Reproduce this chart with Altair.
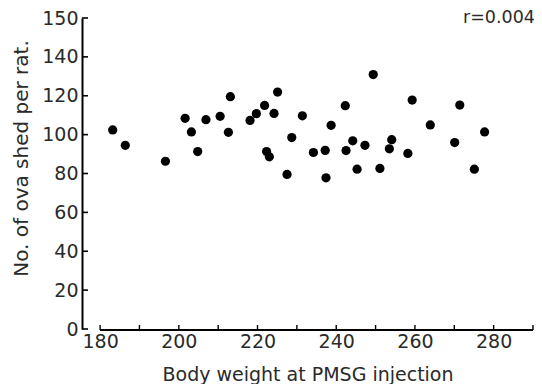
import altair as alt
import pandas as pd

# Body weight at PMSG injection (g) and number of ova shed per rat
weight = [183.2, 186.4, 196.6, 201.6, 203.2, 204.8, 206.9, 210.5, 212.6, 213.1,
          218.1, 219.7, 221.8, 222.3, 223.0, 224.2, 225.1, 227.5, 228.7, 231.4,
          234.2, 237.2, 238.7, 237.4, 242.3, 242.5, 244.2, 245.3, 247.3, 249.4,
          251.1, 253.5, 254.1, 258.2, 259.3, 263.9, 270.1, 271.4, 275.1, 277.7]
ova = [102.4, 94.5, 86.3, 108.4, 101.4, 91.3, 107.7, 109.4, 101.2, 119.5,
       107.3, 110.8, 115.0, 91.3, 88.6, 110.9, 121.9, 79.5, 98.5, 109.7,
       90.8, 91.9, 104.8, 77.8, 114.9, 91.8, 96.8, 82.2, 94.5, 130.9,
       82.6, 92.7, 97.4, 90.3, 117.8, 105.0, 95.9, 115.2, 82.2, 101.4]

x_ticks = [180, 190, 200, 210, 220, 230, 240, 250, 260, 270, 280, 290]
x_labels = [180, 200, 220, 240, 260, 280]
y_ticks = [0, 20, 40, 60, 80, 100, 120, 140, 160]
y_tick_text = ["0", "20", "40", "60", "80", "100", "120", "140", "150"]
annotation = "r=0.004"

W, H = 451, 311
FONT = "DejaVu Sans"
INK = "#2a2a2a"

df = pd.DataFrame({"weight": weight, "ova": ova})
xt = pd.DataFrame({"t": x_ticks})
yt = pd.DataFrame({"t": y_ticks})

xscale = alt.Scale(domain=[175.4, 290], nice=False, zero=False)
yscale = alt.Scale(domain=[0, 160], nice=False)

label_map = "{" + ",".join(f"'{v}':'{t}'" for v, t in zip(y_ticks, y_tick_text)) + "}"

xaxis = alt.Axis(title="Body weight at PMSG injection", values=x_labels,
                 domain=False, ticks=False, grid=False, labelPadding=3,
                 labelFontSize=19, labelColor=INK, labelFont=FONT,
                 titleFont=FONT, titleFontSize=19, titleFontWeight="normal",
                 titleColor=INK, titlePadding=14)
yaxis = alt.Axis(title="No. of ova shed per rat.", values=y_ticks,
                 labelExpr=f"{label_map}[datum.value]",
                 domain=True, domainColor="black", domainWidth=2,
                 ticks=False, grid=False, labelPadding=4,
                 labelFontSize=19, labelColor=INK, labelFont=FONT,
                 titleFont=FONT, titleFontSize=20, titleFontWeight="normal",
                 titleColor=INK, titleX=-51, titleY=140)

points = alt.Chart(df).mark_circle(size=85, color="black", opacity=1).encode(
    x=alt.X("weight:Q", scale=xscale, axis=xaxis),
    y=alt.Y("ova:Q", scale=yscale, axis=yaxis),
)

xline = alt.Chart(xt).mark_rule(color="black", strokeWidth=1.6).encode(
    x=alt.X(datum=180, scale=xscale, axis=xaxis), x2=alt.datum(290), y=alt.value(H + 1)
)

xtick_marks = alt.Chart(xt).mark_rule(color="black", strokeWidth=1.4).encode(
    x=alt.X("t:Q", scale=xscale, axis=xaxis), y=alt.value(H + 1), y2=alt.value(H - 4)
)

ytick_marks = alt.Chart(yt).mark_rule(color="black", strokeWidth=1.6).encode(
    y=alt.Y("t:Q", scale=yscale, axis=yaxis), x=alt.value(0), x2=alt.value(6)
)

label = alt.Chart(pd.DataFrame({"s": [annotation]})).mark_text(
    font=FONT, fontSize=17.5, color=INK, align="center", baseline="middle"
).encode(text="s:N", x=alt.value(417), y=alt.value(0))

chart = alt.layer(points, xline, xtick_marks, ytick_marks, label).properties(
    width=W, height=H,
    autosize=alt.AutoSizeParams(type="none"),
    padding={"left": 74, "top": 10, "right": 1, "bottom": 55},
    background="white",
).configure_view(stroke=None)

chart.save("out.html", embed_options={"renderer": "svg", "actions": False})
